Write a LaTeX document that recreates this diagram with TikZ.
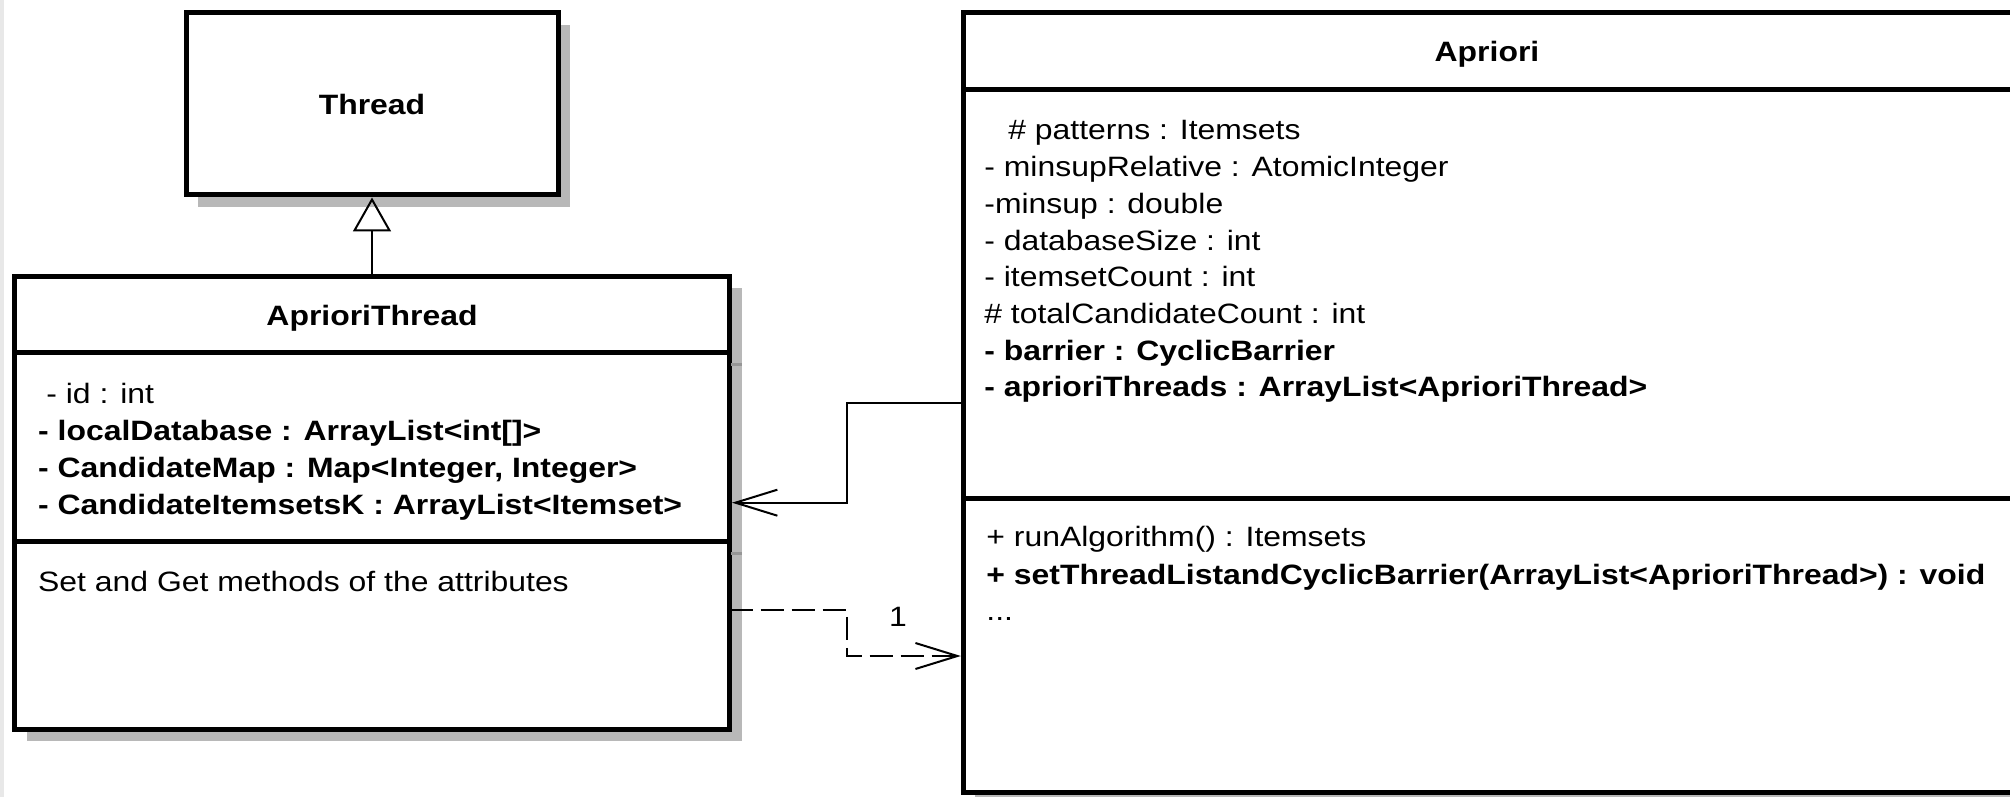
\documentclass[tikz,border=0pt]{standalone}
\usepackage{fontspec}
\setmainfont{Liberation Sans}[FakeStretch=1.14]
\usetikzlibrary{arrows.meta,shadows}
\definecolor{shadowgray}{RGB}{184,184,184}
\definecolor{shadowedge}{RGB}{150,150,150}
\definecolor{edgegray}{RGB}{232,232,232}

\begin{document}
\begin{tikzpicture}[x=0.5pt,y=-0.5pt,
  classbox/.style={draw=black, line width=2.5pt, fill=white, inner sep=0pt,
                   outer sep=0pt, anchor=north west},
  boxshadow/.style={general shadow={shadow xshift=6pt, shadow yshift=-6pt, fill=shadowgray}},
  divider/.style={line width=2.5pt},
  shadowline/.style={draw=shadowedge, line width=1.3pt},
  txt/.style={inner sep=0pt, anchor=base west, font=\fontsize{14}{18.35}\selectfont},
  btxt/.style={txt, font=\fontsize{14}{18.35}\selectfont\bfseries},
  title/.style={inner sep=0pt, anchor=base, font=\fontsize{14}{18.35}\selectfont\bfseries},
  link/.style={line width=1pt},
  depend/.style={link, dash pattern=on 11.5pt off 4pt},
  barb/.style={-{Straight Barb[length=21pt,width=13pt]}, shorten >=1.25pt},
  inherit/.style={-{Triangle[open,length=17pt,width=19pt]}, shorten >=1.25pt}
]
\useasboundingbox (0,0) rectangle (2010,797);
\draw[edgegray, line width=2pt] (1.5,0) -- (1.5,797);

% class boxes
\node[classbox, boxshadow, minimum width=186pt, minimum height=91pt] (thread) at (186,13) {};
\node[classbox, boxshadow, minimum width=357.5pt, minimum height=226.3pt] (athread) at (14.5,276.4) {};
\node[classbox, boxshadow, minimum width=525.35pt, minimum height=390pt] (apriori) at (963.3,12.7) {};

% compartment dividers
\draw[divider] (athread.west |- 0,352.5) -- (athread.east |- 0,352.5);
\draw[divider] (athread.west |- 0,541.5) -- (athread.east |- 0,541.5);
\draw[shadowline] (731,364.5) -- (741.5,364.5);
\draw[shadowline] (731,553.5) -- (741.5,553.5);
\draw[divider] (apriori.west |- 0,89.3) -- (apriori.east |- 0,89.3);
\draw[divider] (apriori.west |- 0,498.7) -- (apriori.east |- 0,498.7);

% titles
\node[title] (threadname) at (372,114.3) {Thread};
\node[title] (athreadname) at (372,325) {AprioriThread};
\node[title] (aprioriname) at (1487,61.7) {Apriori};

% AprioriThread members
\node[txt]  (at1) at (46,403.8)   {- id : int};
\node[btxt] (at2) at (37.8,440.8) {- localDatabase : ArrayList<int[]>};
\node[btxt] (at3) at (37.8,477.5) {- CandidateMap : Map<Integer, Integer>};
\node[btxt] (at4) at (37.8,514)   {- CandidateItemsetsK : ArrayList<Itemset>};
\node[txt]  (am1) at (37.8,591.5) {Set and Get methods of the attributes};

% Apriori members
\node[txt]  (ap1) at (1008,140)  {\# patterns : Itemsets};
\node[txt]  (ap2) at (984,176.7) {- minsupRelative : AtomicInteger};
\node[txt]  (ap3) at (984,213.3) {-minsup : double};
\node[txt]  (ap4) at (984,250)   {- databaseSize : int};
\node[txt]  (ap5) at (984,286.6) {- itemsetCount : int};
\node[txt]  (ap6) at (984,323.3) {\# totalCandidateCount : int};
\node[btxt] (ap7) at (984,360)   {- barrier : CyclicBarrier};
\node[btxt] (ap8) at (984,396.6) {- aprioriThreads : ArrayList<AprioriThread>};
\node[txt]  (pm1) at (986,546.7) {+ runAlgorithm() : Itemsets};
\node[btxt] (pm2) at (986,584.3) {+ setThreadListandCyclicBarrier(ArrayList<AprioriThread>) : void};
\node[txt]  (pm3) at (986,620.7) {...};

% relations
\draw[link, inherit] (athread.north) -- (thread.south);
\draw[link, barb] (apriori.west |- 0,403) -- (846.7,403) -- (846.7,502.7)
      -- (athread.east |- 0,502.7);
\draw[depend, barb] (athread.east |- 0,610) -- (846.7,610) -- (846.7,656)
      -- (apriori.west |- 0,656);
\node[txt, anchor=base] (mult) at (898,626.7) {1};
\end{tikzpicture}
\end{document}
